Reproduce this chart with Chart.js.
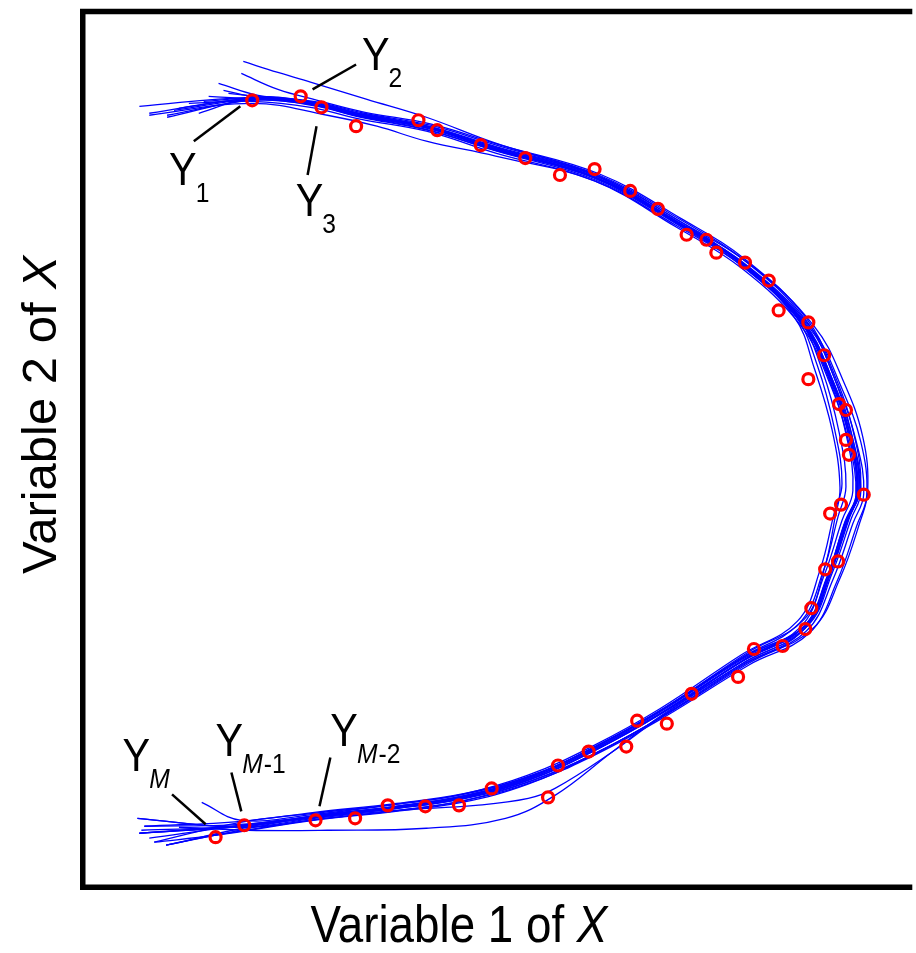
<!DOCTYPE html>
<html>
<head>
<meta charset="utf-8">
<script src="https://cdn.jsdelivr.net/npm/chart.js@4.4.1/dist/chart.umd.min.js"></script>
<style>
  html, body { margin: 0; padding: 0; background: #fff; overflow: hidden; }
</style>
</head>
<body>
<canvas id="curve_chart" width="916" height="953"></canvas>
<script>
// observed points Y1 ... YM (red circles)
const redX = [174,223,244,279,342,361,405,450,485,520,556,584,613,633,643,672,696,706,736,752,736,767,774,774,777,792,769,758,766,753,739,733,710,681,665,618,593,563,552,514,483,473,416,383,349,311,278,238,166,137];
const redY = [793,797,786,767,773,763,748,735,718,724,702,684,658,653,640,630,612,582,570,537,513,488,482,452,437,397,387,378,330,322,283,262,245,242,214,197,167,170,144,139,125,93,102,85,84,85,72,70,65,53];

// fitted curves (blue), [variable 1, variable 2]
const curve01 = [[70,780],[174,795],[233,790],[283,778],[350,766],[420,744],[520,716],[603,670],[670,628],[730,570],[757,517],[777,457],[785,400],[773,370],[755,315],[730,263],[670,230],[587,177],[520,140],[453,110],[387,92],[320,82],[237,73],[163,64],[60,57]];
const curve02 = [[88,778],[175,793],[234,788],[284,776],[351,763],[421,742],[521,713],[604,668],[671,625],[731,567],[759,514],[779,455],[788,402],[776,372],[757,318],[732,265],[672,232],[589,179],[521,142],[454,112],[388,94],[321,84],[238,75],[164,62],[87,45]];
const curve03 = [[120,780],[176,796],[235,791],[285,779],[352,767],[422,746],[522,718],[605,672],[668,630],[726,574],[750,522],[767,460],[774,405],[766,375],[751,320],[727,268],[668,233],[585,179],[518,142],[451,112],[385,94],[318,84],[236,74],[162,66],[65,64]];
const curve04 = [[130,797],[178,794],[232,789],[282,777],[349,764],[419,743],[519,715],[606,668],[675,624],[737,565],[764,510],[784,452],[792,398],[781,368],[761,312],[734,260],[674,228],[590,175],[522,138],[455,109],[389,90],[322,80],[239,71],[165,63],[58,72]];
const curve05 = [[140,810],[180,798],[236,792],[287,780],[354,768],[424,747],[524,718],[607,673],[673,631],[733,573],[760,520],[779,461],[787,403],[776,374],[758,318],[733,266],[671,234],[588,181],[521,144],[454,114],[387,96],[319,86],[236,77],[162,68],[75,48]];
const curve06 = [[163,820],[200,804],[240,793],[288,781],[355,769],[425,748],[525,719],[608,674],[674,632],[734,574],[761,521],[781,462],[789,404],[778,375],[759,319],[735,267],[673,235],[590,182],[523,145],[456,115],[389,97],[320,87],[237,78],[163,69],[65,64]];
const curve07 = [[60,787],[172,796],[231,792],[281,780],[348,767],[418,745],[518,716],[601,671],[668,629],[728,571],[755,518],[774,458],[781,401],[770,371],[752,316],[728,264],[668,231],[585,178],[518,141],[451,111],[385,93],[318,83],[235,74],[137,55],[87,45]];
const curve08 = [[110,790],[174,792],[233,786],[283,774],[350,762],[420,740],[520,712],[602,666],[669,624],[729,566],[756,513],[776,453],[784,396],[772,366],[754,311],[729,259],[669,226],[586,173],[519,136],[452,106],[386,88],[319,79],[236,70],[137,55],[75,48]];
const curve09 = [[165,832],[200,821],[237,810],[290,794],[350,776],[420,750],[520,718],[604,671],[671,629],[731,571],[758,518],[778,458],[786,401],[774,371],[756,316],[731,264],[671,231],[588,178],[521,141],[454,111],[388,93],[321,83],[238,74],[164,65],[60,57]];
const curve10 = [[70,778],[174,790],[250,778],[300,767],[350,752],[420,737],[520,712],[603,667],[670,626],[730,568],[757,515],[777,455],[785,398],[773,368],[755,313],[730,261],[670,228],[587,175],[537,138],[480,95],[430,72],[350,62],[250,60],[170,60],[100,63]];
const curve11 = [[88,776],[176,794],[234,789],[284,777],[351,765],[421,743],[521,715],[604,669],[671,627],[731,569],[758,516],[778,456],[786,399],[775,369],[757,314],[732,262],[672,229],[590,176],[537,138],[480,102],[453,92],[400,85],[320,80],[237,72],[163,63],[58,72]];
const curve12 = [[150,800],[178,797],[234,791],[284,779],[351,767],[421,745],[521,717],[602,672],[666,632],[722,578],[745,527],[762,465],[770,408],[762,378],[748,322],[725,270],[668,236],[586,182],[519,145],[452,115],[386,96],[319,86],[237,76],[163,70],[123,88]];
const curve13 = [[100,785],[175,795],[233,790],[283,778],[350,766],[420,744],[520,716],[607,669],[678,624],[740,563],[768,508],[789,450],[795,396],[785,366],[765,310],[737,258],[676,226],[591,174],[523,137],[456,108],[390,90],[323,80],[240,71],[137,55],[87,45]];
const curve14 = [[125,792],[176,795],[235,789],[285,777],[352,765],[422,743],[522,715],[605,669],[672,627],[732,569],[759,516],[780,456],[789,400],[779,372],[760,318],[735,265],[673,232],[589,178],[522,141],[455,111],[388,93],[320,83],[236,73],[162,64],[60,57]];
const curve15 = [[95,783],[175,794],[234,790],[284,778],[351,765],[421,744],[521,716],[603,671],[667,630],[722,575],[742,524],[760,462],[768,404],[763,374],[752,322],[732,272],[674,238],[592,184],[524,146],[456,114],[389,95],[320,84],[237,74],[163,65],[70,52]];
const curve16 = [[145,803],[179,796],[236,791],[286,779],[353,766],[423,745],[523,717],[609,670],[680,626],[742,566],[771,512],[791,455],[796,401],[788,369],[768,313],[740,262],[678,229],[592,176],[524,139],[457,110],[390,92],[322,82],[239,73],[164,64],[62,60]];
const blueCurves = [curve01,curve02,curve03,curve04,curve05,curve06,curve07,curve08,curve09,curve10,curve11,curve12,curve13,curve14,curve15,curve16];

// labels: [main, subscript, anchor x, anchor y, leader from x,y, leader to x,y]
const labels = [
  ['Y', '1',   90, 708, 115, 752, 162, 787],
  ['Y', '2',  285, 823, 235, 804, 279, 829],
  ['Y', '3',  218, 677, 239, 767, 230, 718],
  ['Y', 'M',   43, 120,  93,  96, 127,  66],
  ['Y', 'M-1',137, 135, 153, 118, 163,  79],
  ['Y', 'M-2',253, 145, 253, 133, 242,  84]
];

const FONT = '"Liberation Sans", Arial, Helvetica, sans-serif';
const SX = 0.88; // text in the figure is a bit squeezed sideways

function textW(ctx, t, font) { ctx.font = font; return ctx.measureText(t).width * SX; }
function putText(ctx, t, font, x, y) {
  ctx.font = font;
  ctx.save();
  ctx.translate(x, y);
  ctx.scale(SX, 1);
  ctx.fillText(t, 0, 0);
  ctx.restore();
}

const figurePlugin = {
  id: 'figure',
  afterDatasetsDraw(chart) {
    const ctx = chart.ctx, a = chart.chartArea;
    const xs = chart.scales.x, ys = chart.scales.y;
    ctx.save();
    // box
    ctx.strokeStyle = '#000';
    ctx.lineWidth = 5.5;
    ctx.lineCap = 'butt';
    ctx.beginPath();
    ctx.moveTo(a.right + 5, a.top + 2.75);
    ctx.lineTo(a.left + 2.75, a.top + 2.75);
    ctx.lineTo(a.left + 2.75, a.bottom - 2.75);
    ctx.lineTo(a.right + 5, a.bottom - 2.75);
    ctx.stroke();

    // annotations
    ctx.fillStyle = '#000';
    ctx.textBaseline = 'alphabetic';
    ctx.textAlign = 'left';
    ctx.lineWidth = 2.5;
    const big = '47px ' + FONT, small = '28px ' + FONT, smallIt = 'italic 28px ' + FONT;
    labels.forEach(l => {
      ctx.beginPath();
      ctx.moveTo(xs.getPixelForValue(l[4]), ys.getPixelForValue(l[5]));
      ctx.lineTo(xs.getPixelForValue(l[6]), ys.getPixelForValue(l[7]));
      ctx.stroke();
      const x = xs.getPixelForValue(l[2]), y = ys.getPixelForValue(l[3]);
      putText(ctx, l[0], big, x, y);
      let sx = x + textW(ctx, l[0], big) - 1;
      const sub = l[1];
      if (sub[0] === 'M') {
        putText(ctx, 'M', smallIt, sx, y + 17);
        sx += textW(ctx, 'M', smallIt) + 1;
        if (sub.length > 1) putText(ctx, sub.slice(1), small, sx, y + 17);
      } else {
        putText(ctx, sub, small, sx, y + 17);
      }
    });

    // axis titles
    const tf = '52px ' + FONT, tfi = 'italic 52px ' + FONT;
    const w1 = textW(ctx, 'Variable 1 of ', tf), w2 = textW(ctx, 'X', tfi);
    let x0 = 459 - (w1 + w2) / 2;
    putText(ctx, 'Variable 1 of ', tf, x0, 942);
    putText(ctx, 'X', tfi, x0 + w1, 942);

    const yf = '49px ' + FONT, yfi = 'italic 49px ' + FONT;
    ctx.font = yf;
    const v1 = ctx.measureText('Variable 2 of ').width;
    ctx.font = yfi;
    const v2 = ctx.measureText('X').width;
    ctx.translate(56, 415);
    ctx.rotate(-Math.PI / 2);
    ctx.font = yf;
    ctx.fillText('Variable 2 of ', -(v1 + v2) / 2, 0);
    ctx.font = yfi;
    ctx.fillText('X', -(v1 + v2) / 2 + v1, 0);
    ctx.restore();
  }
};

const datasets = [{
  data: redX.map((v, i) => ({x: v, y: redY[i]})),
  showLine: false,
  pointStyle: 'circle',
  pointRadius: 5.5,
  pointBorderWidth: 3.2,
  pointBorderColor: '#ff0000',
  pointBackgroundColor: 'rgba(255,255,255,0)'
}];
blueCurves.forEach(c => {
  datasets.push({
    data: c.map(p => ({x: p[0], y: p[1]})),
    showLine: true,
    tension: 0.4,
    borderColor: '#0000ff',
    borderWidth: 1.3,
    pointRadius: 0
  });
});

new Chart(document.getElementById('curve_chart'), {
  type: 'scatter',
  data: { datasets: datasets },
  options: {
    responsive: false,
    animation: false,
    events: [],
    layout: { padding: { left: 80, top: 5, right: 0, bottom: 63 } },
    plugins: { legend: { display: false }, tooltip: { enabled: false } },
    scales: {
      x: { type: 'linear', min: 0, max: 836, display: false },
      y: { type: 'linear', min: 0, max: 885, display: false }
    }
  },
  plugins: [figurePlugin]
});
</script>
</body>
</html>
